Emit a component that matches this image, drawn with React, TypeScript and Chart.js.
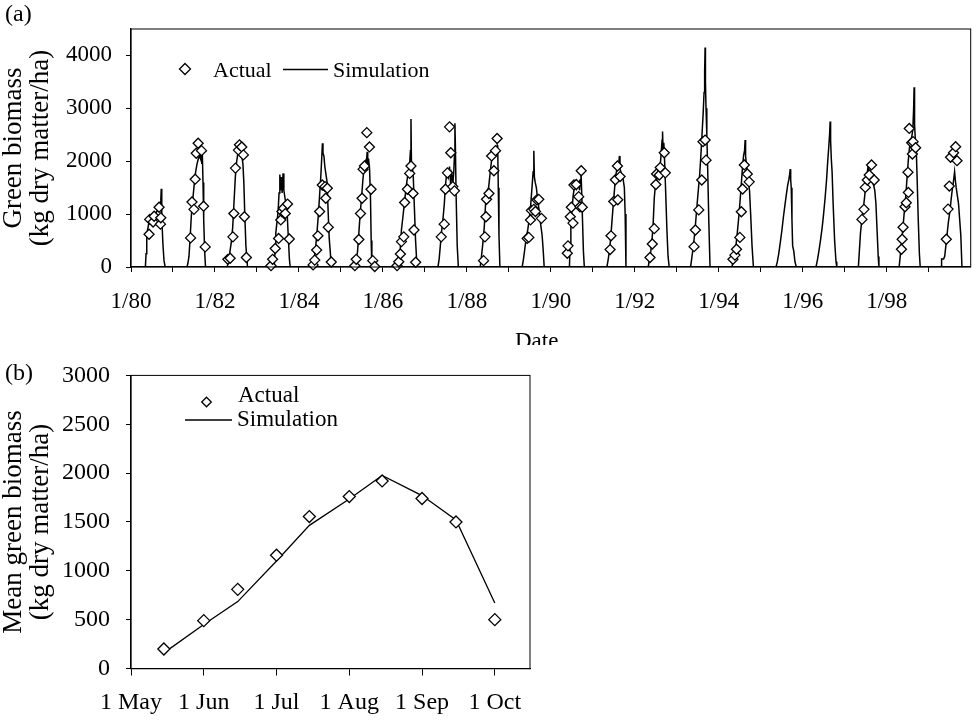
import React, { useEffect, useRef } from 'react';
import { Chart, registerables } from 'chart.js';

Chart.register(...registerables);

const FONT = '"Liberation Serif", "Times New Roman", serif';

// ---------- Panel (a): green biomass 1980-1999 ----------
// Each season: [day of year, kg dry matter/ha]
const sim1980 = [[126,0],[132,250],[138,550],[145,700],[155,820],[168,880],[182,900],[196,950],[210,1000],[225,1050],[240,1100],[252,1150],[260,1250],[264,1480],[267,1300],[270,950],[278,450],[288,120],[298,0]];
const sim1981 = [[122,0],[130,60],[140,200],[150,550],[160,950],[172,1250],[185,1550],[198,1800],[210,1950],[222,2050],[232,2100],[240,2050],[247,2230],[251,1950],[256,2150],[262,1600],[268,900],[276,300],[284,0]];
const sim1982 = [[108,0],[116,100],[128,250],[142,450],[155,750],[166,1200],[178,1700],[190,2000],[200,2150],[208,2250],[213,2300],[218,2150],[225,2250],[234,2100],[244,1950],[252,1600],[260,1000],[270,400],[284,0]];
const sim1983 = [[148,0],[152,50],[158,300],[165,650],[175,850],[185,1050],[193,1400],[200,1750],[206,1450],[213,1700],[220,1400],[228,1770],[235,1450],[245,1300],[255,1150],[265,950],[275,500],[283,150],[290,0]];
const sim1984 = [[115,0],[122,30],[132,150],[145,350],[158,650],[170,1000],[182,1400],[192,1750],[200,2100],[205,2340],[210,2150],[218,2100],[226,1900],[236,1750],[246,1600],[254,1100],[264,550],[278,150],[292,0]];
const sim1985 = [[112,0],[120,30],[132,120],[145,280],[157,650],[168,1000],[180,1300],[192,1650],[204,1900],[214,2000],[222,1950],[229,2180],[234,1900],[241,2050],[250,1850],[258,1300],[264,500],[270,0]];
const sim1986 = [[125,0],[132,20],[142,150],[152,350],[162,700],[175,950],[190,1250],[205,1550],[218,1750],[232,1900],[240,2200],[245,2800],[249,2000],[256,1900],[265,1700],[275,1100],[285,500],[295,100],[303,0]];
const sim1987 = [[110,0],[116,20],[125,150],[135,400],[145,650],[158,900],[170,1200],[180,1550],[192,1800],[205,1700],[215,1900],[225,1550],[235,1750],[245,1600],[252,1800],[258,2100],[262,2720],[266,2300],[272,1400],[282,400],[292,0]];
const sim1988 = [[112,0],[118,20],[128,200],[140,450],[152,750],[165,1250],[178,1450],[190,1500],[202,1750],[215,2000],[230,2100],[245,2200],[258,2150],[265,2300],[269,2280],[274,1500],[280,600],[288,0]];
const sim1989 = [[112,0],[118,20],[128,150],[140,350],[152,550],[165,700],[178,900],[190,1150],[202,1500],[212,1800],[218,2200],[223,1700],[230,1600],[240,1500],[250,1300],[262,1100],[275,850],[290,600],[300,300],[308,0]];
const sim1990 = [[155,0],[163,20],[168,400],[175,800],[185,1100],[195,1350],[205,1500],[215,1550],[225,1480],[235,1550],[245,1600],[250,1450],[258,1650],[263,1830],[268,1500],[276,900],[284,300],[292,0]];
const sim1991 = [[118,0],[125,20],[135,150],[148,350],[160,650],[172,1000],[185,1350],[198,1700],[210,1850],[220,1950],[228,2000],[232,2100],[237,1850],[245,1800],[255,1700],[265,1650],[275,1500],[282,1000],[289,0]];
const sim1992 = [[112,0],[119,20],[128,150],[140,300],[150,500],[160,800],[170,1300],[180,1550],[192,1650],[205,1750],[215,1850],[225,2000],[233,2250],[238,2400],[242,2560],[247,2200],[253,2350],[260,2000],[268,1500],[280,700],[290,200],[300,0]];
const sim1993 = [[115,0],[122,20],[130,150],[142,350],[155,600],[165,850],[178,1200],[190,1500],[200,1750],[210,2100],[220,2500],[230,2900],[238,3300],[243,3700],[247,4150],[250,3500],[255,3000],[262,2500],[270,1800],[280,800],[290,0]];
const sim1994 = [[110,0],[117,20],[125,100],[138,250],[150,400],[162,650],[175,950],[186,1250],[196,1550],[206,1850],[216,2100],[225,2200],[230,2400],[234,2100],[240,1950],[248,1800],[258,1600],[268,1450],[278,1000],[290,400],[302,0]];
const sim1995 = [[128,0],[136,20],[145,100],[157,250],[170,450],[185,700],[198,950],[210,1150],[222,1350],[235,1550],[245,1650],[252,1750],[257,1850],[261,1650],[266,1500],[272,900],[278,400],[288,300],[298,100],[310,0]];
const sim1996 = [[112,0],[118,20],[130,150],[145,350],[158,550],[170,750],[182,1000],[195,1300],[208,1650],[218,2000],[228,2300],[234,2500],[239,2750],[243,2400],[249,2050],[256,1800],[265,1200],[278,500],[290,100],[297,0]];
const sim1997 = [[113,0],[120,20],[128,300],[138,650],[150,900],[162,1100],[175,1350],[188,1650],[198,1800],[206,1960],[212,1700],[222,1800],[232,1650],[242,1600],[252,1550],[262,1450],[272,1200],[282,700],[292,200],[298,0]];
const sim1998 = [[105,0],[110,20],[118,200],[128,400],[140,700],[152,1000],[165,1300],[178,1700],[188,2000],[198,2250],[208,2350],[218,2450],[228,2600],[235,3000],[239,3400],[243,2700],[250,2400],[258,2200],[265,1700],[275,900],[285,250],[292,0]];
const sim1999 = [[105,0],[111,20],[113,150],[130,150],[140,200],[150,400],[160,600],[172,850],[185,1050],[197,1300],[208,1500],[218,1650],[226,1800],[232,1650],[240,1500],[250,1350],[260,1200],[270,900],[280,600],[290,0]];

const act1980 = [[158,620],[164,900],[193,850],[202,960],[245,1130],[257,810],[260,930]];
const act1981 = [[154,550],[166,1230],[183,1090],[194,1660],[203,2150],[220,2340],[249,2200],[267,1150],[281,380]];
const act1982 = [[113,145],[133,165],[157,570],[165,1010],[179,1870],[205,2210],[214,2310],[234,2270],[248,2120],[257,950],[274,180]];
const act1983 = [[123,25],[137,145],[160,350],[189,540],[208,890],[218,1050],[232,1110],[247,1010],[267,1190],[282,530]];
const act1984 = [[124,40],[138,130],[155,320],[166,590],[181,1050],[204,1550],[228,1520],[234,1300],[248,1490],[256,750],[282,95]];
const act1985 = [[122,25],[134,145],[157,520],[171,1010],[185,1300],[194,1850],[206,1910],[226,2540],[249,2270],[263,1470],[278,120],[295,10]];
const act1986 = [[124,25],[139,100],[153,245],[162,480],[182,570],[190,1220],[214,1470],[234,1770],[245,1910],[263,1390],[271,700],[286,90]];
const act1987 = [[143,570],[169,810],[180,1470],[197,1780],[215,2650],[226,2160],[243,1520],[258,1440]];
const act1988 = [[146,120],[158,570],[167,950],[172,1280],[193,1390],[216,2100],[236,1820],[250,2200],[264,2430]];
const act1989 = [[160,540],[174,560],[189,890],[197,1070],[218,1090],[232,1050],[244,1270],[261,1280],[284,920]];
const act1990 = [[144,260],[150,400],[170,950],[179,1130],[193,830],[202,1550],[222,1560],[243,1330],[254,1140],[265,1820],[274,1130]];
const act1991 = [[151,330],[159,590],[183,1240],[197,1650],[215,1910],[218,1270],[238,1710]];
const act1992 = [[133,180],[153,435],[170,725],[184,1560],[190,1760],[214,1740],[222,1880],[257,2160],[266,1780]];
const act1993 = [[151,385],[163,700],[192,1080],[218,1645],[229,2370],[247,2400],[255,2020]];
const act1994 = [[124,145],[141,225],[155,335],[184,560],[197,1045],[208,1475],[223,1930],[249,1760],[265,1610]];
const act1995: number[][] = [];
const act1996: number[][] = [];
const act1997 = [[151,900],[168,1090],[180,1505],[197,1645],[214,1740],[234,1930],[257,1645]];
const act1998 = [[129,335],[135,525],[143,750],[160,1140],[171,1215],[186,1790],[189,1410],[197,2620],[218,2350],[224,2135],[230,2370],[252,2255]];
const act1999 = [[154,525],[169,1095],[180,1530],[191,2075],[217,2160],[235,2275],[247,2010]];

const seasonYears = [1980,1981,1982,1983,1984,1985,1986,1987,1988,1989,1990,1991,1992,1993,1994,1995,1996,1997,1998,1999];
const simSeasons = [sim1980,sim1981,sim1982,sim1983,sim1984,sim1985,sim1986,sim1987,sim1988,sim1989,sim1990,sim1991,sim1992,sim1993,sim1994,sim1995,sim1996,sim1997,sim1998,sim1999];
const actSeasons = [act1980,act1981,act1982,act1983,act1984,act1985,act1986,act1987,act1988,act1989,act1990,act1991,act1992,act1993,act1994,act1995,act1996,act1997,act1998,act1999];

const yearTickLabels = ['1/80','1/82','1/84','1/86','1/88','1/90','1/92','1/94','1/96','1/98'];
const yTickLabelsA = ['0','1000','2000','3000','4000'];

// ---------- Panel (b): seasonal means ----------
const bDates = ['15 May','1 Jun','15 Jun','1 Jul','15 Jul','1 Aug','15 Aug','1 Sep','15 Sep','1 Oct'];
const bActual = [200, 490, 810, 1160, 1555, 1760, 1920, 1740, 1500, 500];
const bSimulation = [160, 450, 685, 1100, 1465, 1735, 1975, 1770, 1520, 670];
const bMonthTicks = ['1 May','1 Jun','1 Jul','1 Aug','1 Sep','1 Oct'];
const bMonthNames = ['May','Jun','Jul','Aug','Sep','Oct'];
const bMonthDays = [31,30,31,31,30,31];
const bAxisEnd = '16 Oct';

function dateToMonthPos(s: string): number {
  const [d, m] = s.split(' ');
  const mi = bMonthNames.indexOf(m);
  return mi + (Number(d) - 1) / bMonthDays[mi];
}

function seasonPoints(seasons: number[][][]) {
  const pts: { x: number; y: number }[] = [];
  seasons.forEach((season, i) => {
    season.forEach(([day, v]) => pts.push({ x: seasonYears[i] + (day - 1) / 365, y: v }));
  });
  return pts;
}

function drawDiamond(ctx: CanvasRenderingContext2D, x: number, y: number, r: number) {
  ctx.beginPath();
  ctx.moveTo(x, y - r);
  ctx.lineTo(x + r, y);
  ctx.lineTo(x, y + r);
  ctx.lineTo(x - r, y);
  ctx.closePath();
  ctx.fillStyle = '#fff';
  ctx.fill();
  ctx.strokeStyle = '#000';
  ctx.lineWidth = 1.3;
  ctx.stroke();
}

const axisCommon = (tickLen: number) => ({
  grid: { display: true, drawOnChartArea: false, drawTicks: true, tickLength: tickLen, color: '#000', lineWidth: 1 },
  border: { display: true, color: '#000', width: 1.3 },
});

export default function App() {
  const refA = useRef<HTMLCanvasElement>(null);
  const refB = useRef<HTMLCanvasElement>(null);

  useEffect(() => {
    const extrasA = {
      id: 'extrasA',
      afterDraw(chart: any) {
        const { ctx, chartArea: ca } = chart;
        ctx.save();
        ctx.strokeStyle = '#000';
        ctx.lineWidth = 1;
        ctx.strokeRect(ca.left, ca.top, ca.right - ca.left, ca.bottom - ca.top);
        ctx.fillStyle = '#000';
        ctx.textAlign = 'left';
        ctx.textBaseline = 'alphabetic';
        ctx.font = `24px ${FONT}`;
        ctx.fillText('(a)', 5, 21);
        ctx.font = `23px ${FONT}`;
        ctx.fillText('Date', 515, 348);
        // legend
        const ds = chart.data.datasets;
        drawDiamond(ctx, 185, 69, 5.5);
        ctx.fillStyle = '#000';
        ctx.font = `22px ${FONT}`;
        ctx.fillText(ds[0].label, 213, 77);
        ctx.beginPath();
        ctx.moveTo(283, 69.5);
        ctx.lineTo(328, 69.5);
        ctx.strokeStyle = '#000';
        ctx.lineWidth = 1.3;
        ctx.stroke();
        ctx.fillText(ds[1].label, 333, 77);
        ctx.restore();
      },
    };

    const chartA = new Chart(refA.current!, {
      type: 'line',
      data: {
        datasets: [
          {
            label: 'Actual',
            data: seasonPoints(actSeasons),
            showLine: false,
            pointStyle: 'rectRot',
            pointRadius: 5,
            pointBorderWidth: 1.3,
            pointBorderColor: '#000',
            pointBackgroundColor: '#fff',
            clip: false,
          },
          {
            label: 'Simulation',
            data: seasonPoints(simSeasons),
            borderColor: '#000',
            borderWidth: 1.5,
            pointRadius: 0,
            tension: 0,
            fill: false,
          },
        ],
      },
      options: {
        responsive: false,
        animation: false,
        devicePixelRatio: 1,
        layout: { padding: { left: 0, top: 29, right: 2, bottom: 0 } },
        plugins: { legend: { display: false }, tooltip: { enabled: false } },
        scales: {
          x: {
            type: 'linear',
            min: 1980,
            max: 2000,
            ...axisCommon(5),
            afterBuildTicks: (s: any) => {
              const t = [];
              for (let y = 1980; y < 2000; y++) t.push({ value: y });
              s.ticks = t;
            },
            afterFit: (s: any) => { s.height = 78; },
            ticks: {
              autoSkip: false,
              maxRotation: 0,
              minRotation: 0,
              padding: 16,
              color: '#000',
              font: { family: FONT, size: 23 },
              callback: (v: any) => {
                const k = (Number(v) - 1980) / 2;
                return Number.isInteger(k) && k < yearTickLabels.length ? yearTickLabels[k] : '';
              },
            },
          },
          y: {
            type: 'linear',
            min: 0,
            max: 4500,
            ...axisCommon(5),
            afterBuildTicks: (s: any) => {
              const t = [];
              for (let v = 0; v <= 4000; v += 500) t.push({ value: v });
              s.ticks = t;
            },
            afterFit: (s: any) => { s.width = 131; },
            ticks: {
              padding: 14,
              color: '#000',
              font: { family: FONT, size: 23 },
              callback: (v: any) => {
                const k = Number(v) / 1000;
                return Number.isInteger(k) ? yTickLabelsA[k] : '';
              },
            },
            title: {
              display: true,
              text: ['Green biomass', '(kg dry matter/ha)'],
              color: '#000',
              font: { family: FONT, size: 27, lineHeight: 1.0 },
              padding: { top: 0, bottom: 0 },
            },
          },
        },
      },
      plugins: [extrasA],
    } as any);

    const extrasB = {
      id: 'extrasB',
      afterDraw(chart: any) {
        const { ctx, chartArea: ca } = chart;
        ctx.save();
        ctx.strokeStyle = '#000';
        ctx.lineWidth = 1;
        ctx.strokeRect(ca.left, ca.top, ca.right - ca.left, ca.bottom - ca.top);
        ctx.fillStyle = '#000';
        ctx.textAlign = 'left';
        ctx.textBaseline = 'alphabetic';
        ctx.font = `24px ${FONT}`;
        ctx.fillText('(b)', 5, 35);
        const ds = chart.data.datasets;
        drawDiamond(ctx, 206.5, 57, 4.8);
        ctx.fillStyle = '#000';
        ctx.font = `23px ${FONT}`;
        ctx.fillText(ds[0].label, 238, 57);
        ctx.beginPath();
        ctx.moveTo(185, 75);
        ctx.lineTo(232, 75);
        ctx.strokeStyle = '#000';
        ctx.lineWidth = 1.3;
        ctx.stroke();
        ctx.fillText(ds[1].label, 237, 81);
        ctx.restore();
      },
    };

    const chartB = new Chart(refB.current!, {
      type: 'line',
      data: {
        datasets: [
          {
            label: 'Actual',
            data: bDates.map((d, i) => ({ x: dateToMonthPos(d), y: bActual[i] })),
            showLine: false,
            pointStyle: 'rectRot',
            pointRadius: 6,
            pointBorderWidth: 1.3,
            pointBorderColor: '#000',
            pointBackgroundColor: '#fff',
            clip: false,
          },
          {
            label: 'Simulation',
            data: bDates.map((d, i) => ({ x: dateToMonthPos(d), y: bSimulation[i] })),
            borderColor: '#000',
            borderWidth: 1.3,
            pointRadius: 0,
            tension: 0,
            fill: false,
          },
        ],
      },
      options: {
        responsive: false,
        animation: false,
        devicePixelRatio: 1,
        layout: { padding: { left: 0, top: 23, right: 10, bottom: 0 } },
        plugins: { legend: { display: false }, tooltip: { enabled: false } },
        scales: {
          x: {
            type: 'linear',
            min: 0,
            max: dateToMonthPos(bAxisEnd),
            ...axisCommon(7),
            afterBuildTicks: (s: any) => {
              s.ticks = bMonthTicks.map((_, i) => ({ value: i }));
            },
            afterFit: (s: any) => { s.height = 54.5; },
            ticks: {
              autoSkip: false,
              maxRotation: 0,
              minRotation: 0,
              padding: 13,
              color: '#000',
              font: { family: FONT, size: 24 },
              callback: (v: any) => bMonthTicks[Math.round(Number(v))] ?? '',
            },
          },
          y: {
            type: 'linear',
            min: 0,
            max: 3000,
            ...axisCommon(5),
            afterBuildTicks: (s: any) => {
              const t = [];
              for (let v = 0; v <= 3000; v += 500) t.push({ value: v });
              s.ticks = t;
            },
            afterFit: (s: any) => { s.width = 131; },
            ticks: {
              padding: 16,
              color: '#000',
              font: { family: FONT, size: 24 },
              callback: (v: any) => String(v),
            },
            title: {
              display: true,
              text: ['Mean green biomass', '(kg dry matter/ha)'],
              color: '#000',
              font: { family: FONT, size: 27, lineHeight: 1.0 },
              padding: { top: 0, bottom: 0 },
            },
          },
        },
      },
      plugins: [extrasB],
    } as any);

    return () => {
      chartA.destroy();
      chartB.destroy();
    };
  }, []);

  return (
    <div style={{ position: 'fixed', left: 0, top: 0, width: 977, height: 723, background: '#fff' }}>
      <canvas ref={refA} width={977} height={345} style={{ position: 'absolute', left: 0, top: 0, width: 977, height: 345 }} />
      <canvas ref={refB} width={540} height={378} style={{ position: 'absolute', left: 0, top: 345, width: 540, height: 378 }} />
    </div>
  );
}
